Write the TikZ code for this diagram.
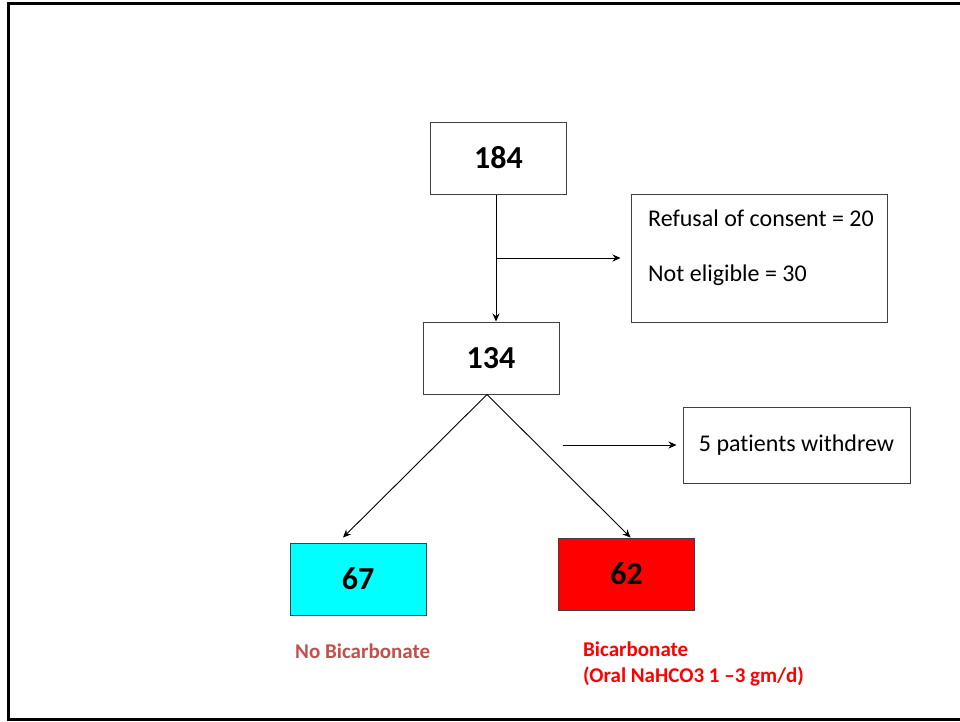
\documentclass[tikz,border=0pt]{standalone}
\usepackage{fontspec}
\setmainfont{Carlito}[Ligatures={NoCommon}]
\usepackage{tikz}
\usetikzlibrary{arrows.meta,positioning,calc}
\definecolor{fcgrey}{HTML}{404040}
\definecolor{fcrust}{HTML}{C0504D}
\definecolor{fccyan}{HTML}{00FFFF}
\definecolor{fcred}{HTML}{FF0000}
\tikzset{
  fcbox/.style={
    rectangle, draw=fcgrey, fill=white, line width=1pt,
    inner sep=0pt, font=\fontsize{24}{29}\selectfont
  },
  fccount/.style={
    fcbox, minimum width=136pt, minimum height=72pt,
    font=\fontsize{32}{38}\selectfont\bfseries
  },
  fctext/.style={anchor=west,inner sep=0pt,font=\fontsize{24}{29}\selectfont},
  fcedge/.style={-{Stealth[length=8pt,width=7pt]},line width=0.9pt},
  fcnote/.style={anchor=west,align=left,inner sep=0pt,font=\fontsize{21}{26}\selectfont\bfseries},
  fcframe/.style={line width=3pt}
}

\begin{document}
\begin{tikzpicture}[x=1pt,y=-1pt]
  \useasboundingbox (0,0) rectangle (960,721);
  \draw[fcframe] (966,3) -- (8,3) -- (8,719) -- (966,719);

  \node[fccount] (n184) at (498.5,158) {184};
  \node[fccount] (n134) at (491,358) {134};
  \node[fcbox,minimum width=256pt,minimum height=128pt] (excl) at (759,258) {};
  \node[fctext] (refusal) at (648,218) {Refusal of consent = 20};
  \node[fctext] (noteligible) at (648,275) {Not eligible = 30};
  \node[fcbox,minimum width=227pt,minimum height=76pt] (withdrew) at (796.5,445) {5 patients withdrew};
  \node[fccount,fill=fccyan] (n67) at (358,579) {67};
  \node[fccount,fill=fcred] (n62) at (626.5,574) {62};

  \coordinate (split) at (496,258);
  \coordinate (apex) at ([xshift=-4pt]n134.south);
  \draw[fcedge] (n184.south -| split) -- (n134.north -| split);
  \draw[fcedge] (split) -- ([xshift=-10pt]excl.west);
  \draw[fcedge] (apex) -- ([xshift=-15pt,yshift=5pt]n67.north);
  \draw[fcedge] (apex) -- ([xshift=4pt]n62.north);
  \draw[fcedge] ([xshift=-120pt]withdrew.west) -- ([xshift=-6pt]withdrew.west);

  \node[fcnote,text=fcrust] (nobic) at (295,651) {No Bicarbonate};
  \node[fcnote,text=fcred] (bic) at (583,664) {Bicarbonate\\(Oral NaHCO3 1 –3 gm/d)};
\end{tikzpicture}
\end{document}
